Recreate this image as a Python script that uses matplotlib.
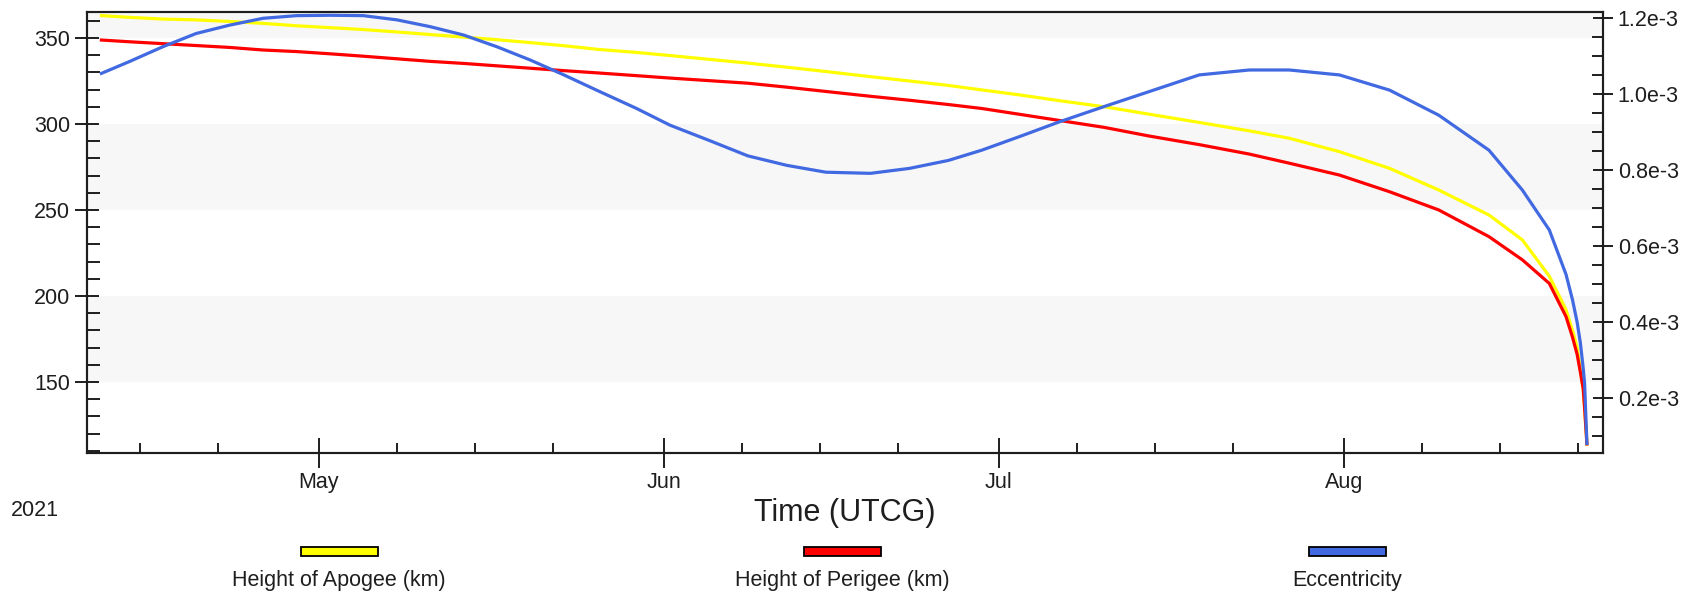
import pandas as pd
import matplotlib
matplotlib.use("Agg")
import matplotlib.pyplot as plt
import matplotlib.dates as mdates
from matplotlib.patches import Rectangle
from matplotlib.ticker import MultipleLocator, FuncFormatter

plt.rcParams['font.family'] = ['Liberation Sans', 'DejaVu Sans']

# sample times (UTCG, 2021)
times = ["2021-04-11 12:00", "2021-04-14 00:00", "2021-04-17 00:00", "2021-04-20 00:00",
         "2021-04-23 00:00", "2021-04-26 00:00", "2021-04-29 00:00", "2021-05-02 00:00",
         "2021-05-05 00:00", "2021-05-08 00:00", "2021-05-11 00:00", "2021-05-14 00:00",
         "2021-05-17 00:00", "2021-05-20 00:00", "2021-05-23 00:00", "2021-05-26 00:00",
         "2021-05-29 12:00", "2021-06-01 12:00", "2021-06-05 00:00", "2021-06-08 12:00",
         "2021-06-12 00:00", "2021-06-15 12:00", "2021-06-19 12:00", "2021-06-23 00:00",
         "2021-06-26 12:00", "2021-06-29 12:00", "2021-07-03 00:00", "2021-07-06 12:00",
         "2021-07-10 12:00", "2021-07-14 12:00", "2021-07-19 00:00", "2021-07-23 12:00",
         "2021-07-27 02:00", "2021-07-31 14:00", "2021-08-05 02:00", "2021-08-09 12:00",
         "2021-08-14 00:00", "2021-08-17 00:00", "2021-08-19 10:00", "2021-08-20 22:00",
         "2021-08-21 12:00", "2021-08-21 22:00", "2021-08-22 05:00", "2021-08-22 11:00",
         "2021-08-22 14:00", "2021-08-22 19:00"]

apogee_km = [363.0, 362.0, 361.0, 360.5, 359.6, 358.5, 357.1, 356.0, 354.9, 353.5,
             352.0, 350.5, 349.0, 347.3, 345.5, 343.4, 341.6, 339.8, 337.6, 335.4,
             333.0, 330.5, 327.5, 325.0, 322.4, 319.8, 316.8, 313.5, 310.0, 305.7,
             300.9, 296.0, 291.7, 283.9, 274.2, 261.6, 247.1, 232.6, 211.5, 192.0,
             180.0, 170.0, 157.0, 146.0, 135.0, 114.0]

perigee_km = [348.8, 347.8, 346.7, 345.6, 344.5, 343.0, 342.1, 340.8, 339.4, 337.9,
              336.4, 335.2, 333.8, 332.4, 331.0, 329.7, 328.1, 326.7, 325.2, 323.7,
              321.4, 318.9, 316.1, 313.8, 311.3, 309.0, 305.5, 302.0, 298.0, 293.0,
              288.0, 282.5, 277.2, 270.3, 260.6, 250.0, 234.5, 221.0, 207.3, 188.0,
              176.0, 166.0, 155.5, 146.0, 135.0, 114.0]

eccentricity = [1.055e-3, 1.086e-3, 1.125e-3, 1.160e-3, 1.182e-3, 1.200e-3, 1.207e-3, 1.208e-3,
                1.207e-3, 1.196e-3, 1.178e-3, 1.156e-3, 1.125e-3, 1.090e-3, 1.051e-3, 1.010e-3,
                0.963e-3, 0.919e-3, 0.879e-3, 0.838e-3, 0.813e-3, 0.795e-3, 0.792e-3, 0.805e-3,
                0.826e-3, 0.853e-3, 0.890e-3, 0.928e-3, 0.968e-3, 1.007e-3, 1.051e-3, 1.064e-3,
                1.064e-3, 1.051e-3, 1.011e-3, 0.945e-3, 0.853e-3, 0.748e-3, 0.643e-3, 0.526e-3,
                0.459e-3, 0.400e-3, 0.345e-3, 0.279e-3, 0.239e-3, 0.081e-3]

series_names = ["Height of Apogee (km)", "Height of Perigee (km)", "Eccentricity"]
series_colors = ["#FFFF00", "#FF0000", "#4169E1"]

t = pd.to_datetime(times)

W, H = 1684, 593
fig = plt.figure(figsize=(W / 100, H / 100), dpi=100)
ax = fig.add_axes([87 / W, 1 - 453 / H, (1602.7 - 87) / W, (453 - 12) / H])

ink = "#1e1e1e"
fs = 15.5

# alternating light bands
for lo in (150, 250, 350):
    ax.axhspan(lo, lo + 50, color="#F7F7F7", lw=0, zorder=0)

ax.plot(t, apogee_km, color=series_colors[0], lw=2.3, zorder=3)
ax.plot(t, perigee_km, color=series_colors[1], lw=2.3, zorder=3)

ax.set_xlim(pd.Timestamp("2021-04-10 05:00"), pd.Timestamp("2021-08-24 05:00"))
ax.set_ylim(108.7, 365.1)

ax2 = ax.twinx()
ax2.plot(t, eccentricity, color=series_colors[2], lw=2.3)
ax2.set_ylim(0.056e-3, 1.2166e-3)

# axes / ticks
for a in (ax, ax2):
    for s in a.spines.values():
        s.set_color(ink)
        s.set_linewidth(1.5)

ax.xaxis.set_major_locator(mdates.MonthLocator())
ax.xaxis.set_minor_locator(mdates.DayLocator(bymonthday=[8, 15, 22]))
ax.xaxis.set_major_formatter(mdates.DateFormatter("%b"))
ax.tick_params(axis="x", which="major", direction="inout", length=21, width=1.4,
               color=ink, labelsize=fs, labelcolor=ink, pad=3)
ax.tick_params(axis="x", which="minor", direction="in", length=7, width=1.4, color=ink)

ax.yaxis.set_major_locator(MultipleLocator(50))
ax.yaxis.set_minor_locator(MultipleLocator(10))
ax.tick_params(axis="y", which="major", direction="inout", length=17, width=1.4,
               color=ink, labelsize=fs, labelcolor=ink, pad=3.5)
ax.tick_params(axis="y", which="minor", direction="in", length=9, width=1.4, color=ink)

ax2.yaxis.set_major_locator(MultipleLocator(0.2e-3))
ax2.yaxis.set_minor_locator(MultipleLocator(0.05e-3))
ax2.yaxis.set_major_formatter(FuncFormatter(lambda v, p: f"{v * 1e3:.1f}e-3"))
ax2.tick_params(axis="y", which="major", direction="inout", length=15, width=1.4,
                color=ink, labelsize=fs, labelcolor=ink, pad=3.4)
ax2.tick_params(axis="y", which="minor", direction="in", length=8, width=1.4, color=ink)

# texts
fig.text(844.9 / W, 1 - 521 / H, "Time (UTCG)", ha="center", va="baseline",
         fontsize=22, color=ink)
fig.text(11 / W, 1 - 516 / H, "2021", ha="left", va="baseline", fontsize=fs, color=ink)

# legend under the chart
legend_x = [339, 842.5, 1347]
for cx, name, col in zip(legend_x, series_names, series_colors):
    fig.patches.append(Rectangle(((cx - 38.5) / W, 1 - 555.7 / H), 77 / W, 9 / H,
                                 transform=fig.transFigure, facecolor=col,
                                 edgecolor="black", lw=1.3))
    fig.text(cx / W, 1 - 586 / H, name, ha="center", va="baseline", fontsize=fs, color=ink)

fig.savefig("out.png", dpi=100)
